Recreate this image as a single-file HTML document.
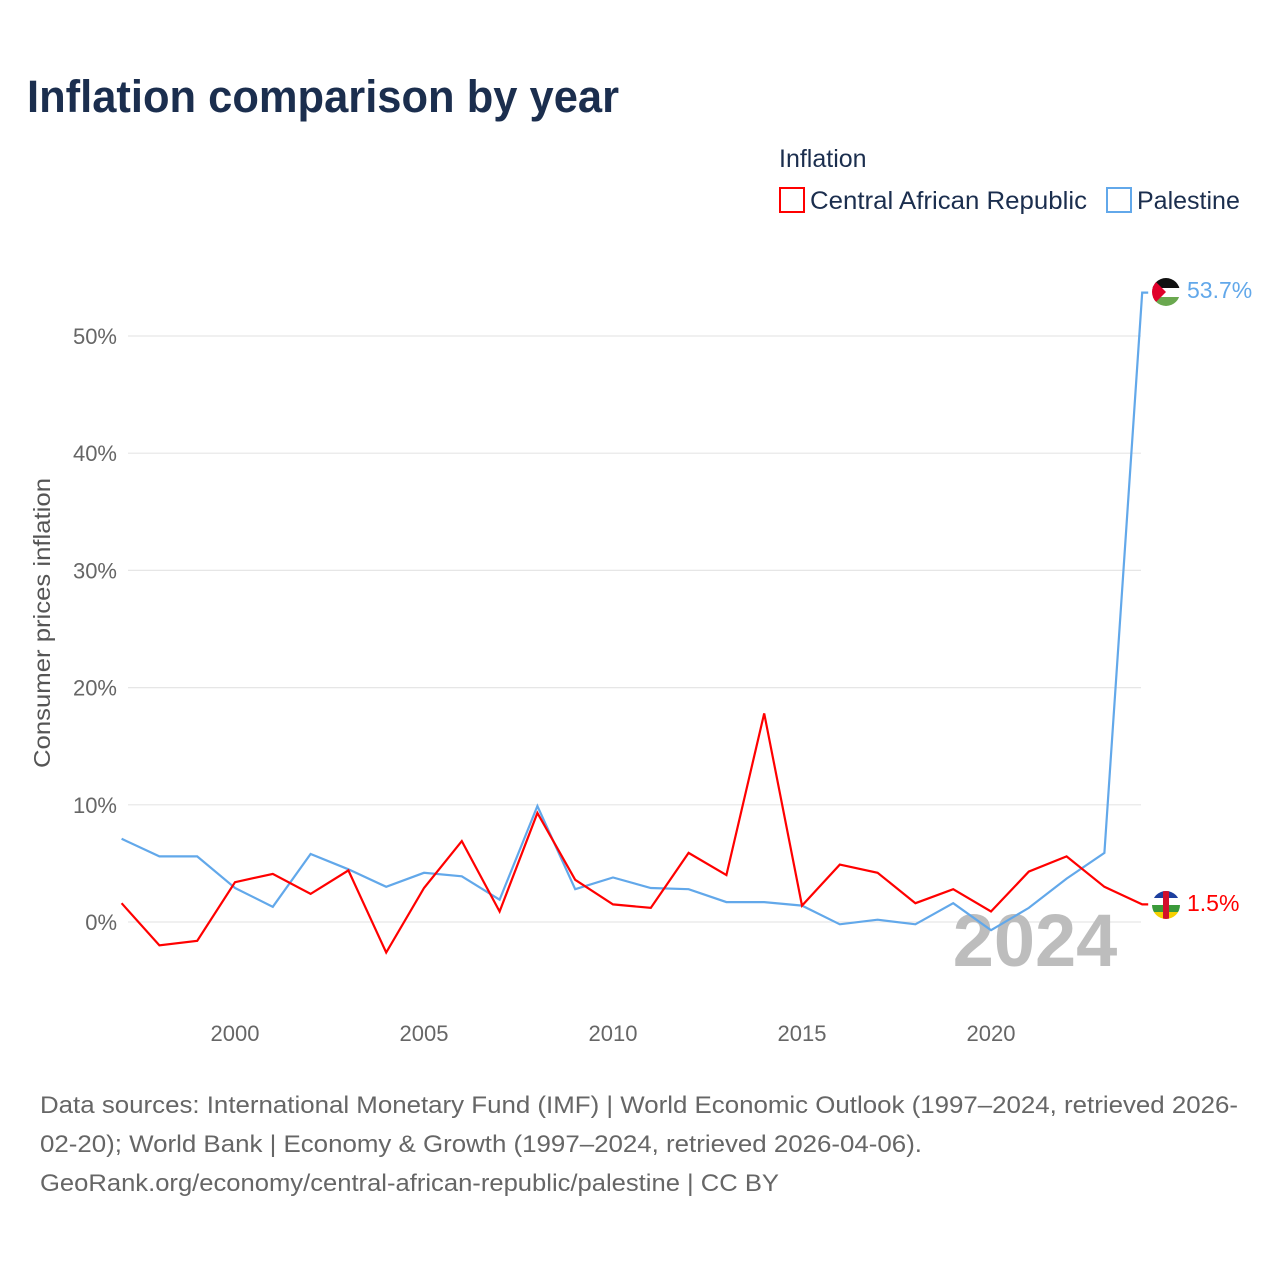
<!DOCTYPE html>
<html><head><meta charset="utf-8"><style>
body{margin:0;background:#fff;font-family:"Liberation Sans",sans-serif;}
#wrap{position:relative;width:1280px;height:1280px;overflow:hidden;}
</style></head><body>
<div id="wrap">
<svg id="chart" width="1280" height="1280" xmlns="http://www.w3.org/2000/svg">
<text x="27" y="112" font-size="45" font-weight="bold" fill="#1b2e4e" textLength="592" lengthAdjust="spacingAndGlyphs">Inflation comparison by year</text>
<text x="779" y="167" font-size="25" fill="#1b2e4e">Inflation</text>
<g><rect x="780" y="188" width="24" height="24" fill="none" stroke="#ff0000" stroke-width="2"/><text x="810" y="209" font-size="25" fill="#1b2e4e" textLength="277" lengthAdjust="spacingAndGlyphs">Central African Republic</text></g>
<g><rect x="1107" y="188" width="24" height="24" fill="none" stroke="#62a8ea" stroke-width="2"/><text x="1137" y="209" font-size="25" fill="#1b2e4e">Palestine</text></g>
<g id="grid"></g><g id="yticks"></g><g id="xticks"></g>
<text x="1035" y="966" font-size="74" font-weight="bold" fill="#bdbdbd" text-anchor="middle">2024</text>
<text transform="translate(50,623) rotate(-90)" font-size="23" fill="#555" text-anchor="middle" textLength="290" lengthAdjust="spacingAndGlyphs">Consumer prices inflation</text>
<g id="series"></g>
<g>
<clipPath id="cp1"><circle cx="1166" cy="292" r="14"/></clipPath>
<g clip-path="url(#cp1)"><rect x="1152" y="278" width="28" height="10" fill="#111"/><rect x="1152" y="288" width="28" height="9" fill="#fff"/><rect x="1152" y="297" width="28" height="10" fill="#6aa84f"/><polygon points="1152,278 1166,292 1152,306" fill="#e0002a"/></g></g>
<g>
<clipPath id="cp2"><circle cx="1166" cy="905" r="14"/></clipPath>
<g clip-path="url(#cp2)"><rect x="1152" y="891" width="28" height="7" fill="#1d3f9e"/><rect x="1152" y="898" width="28" height="7" fill="#fff"/><rect x="1152" y="905" width="28" height="7" fill="#3a9a3a"/><rect x="1152" y="912" width="28" height="7" fill="#f5d000"/><rect x="1163" y="891" width="6" height="28" fill="#d2102a"/></g></g>
<text x="1187" y="298" font-size="23" fill="#62a8ea">53.7%</text>
<text x="1187" y="911" font-size="23" fill="#ff0000">1.5%</text>
<g font-size="24" fill="#666">
<text x="40" y="1113" textLength="1198" lengthAdjust="spacingAndGlyphs">Data sources: International Monetary Fund (IMF) | World Economic Outlook (1997–2024, retrieved 2026-</text>
<text x="40" y="1152" textLength="882" lengthAdjust="spacingAndGlyphs">02-20); World Bank | Economy &amp; Growth (1997–2024, retrieved 2026-04-06).</text>
<text x="40" y="1191" textLength="739" lengthAdjust="spacingAndGlyphs">GeoRank.org/economy/central-african-republic/palestine | CC BY</text>
</g>
</svg>
</div>
<script>
const years=[1997,1998,1999,2000,2001,2002,2003,2004,2005,2006,2007,2008,2009,2010,2011,2012,2013,2014,2015,2016,2017,2018,2019,2020,2021,2022,2023,2024];
const carValues=[1.6,-2.0,-1.6,3.4,4.1,2.4,4.4,-2.6,2.9,6.9,0.9,9.3,3.6,1.5,1.2,5.9,4.0,17.8,1.4,4.9,4.2,1.6,2.8,0.9,4.3,5.6,3.0,1.5];
const palValues=[7.1,5.6,5.6,2.9,1.3,5.8,4.5,3.0,4.2,3.9,1.9,9.9,2.8,3.8,2.9,2.8,1.7,1.7,1.4,-0.2,0.2,-0.2,1.6,-0.7,1.2,3.7,5.9,53.7];
const yTicks=[0,10,20,30,40,50];
const xTicks=[2000,2005,2010,2015,2020];
const NS="http://www.w3.org/2000/svg";
function xs(y){return 121.6+(y-1997)*37.8;}
function ys(v){return 922-v*11.72;}
function mk(t,a,p){const e=document.createElementNS(NS,t);for(const k in a)e.setAttribute(k,a[k]);p.appendChild(e);return e;}
const grid=document.getElementById('grid'),yt=document.getElementById('yticks'),xt=document.getElementById('xticks'),se=document.getElementById('series');
yTicks.forEach(v=>{
 const l=mk('line',{x1:128,x2:1141,y1:ys(v),y2:ys(v),stroke:'#e6e6e6','stroke-width':1.2},grid);
 
 
 const t=mk('text',{x:117,y:ys(v)+8,'font-size':22,fill:'#666','text-anchor':'end'},yt);
 t.textContent=v+'%';
 
 
});
xTicks.forEach(v=>{
 const t=mk('text',{x:xs(v),y:1041,'font-size':22,fill:'#666','text-anchor':'middle'},xt);
 t.textContent=v;
 
 
});
function line(vals,color,name){
 let d=vals.map((v,i)=>(i?'L':'M')+xs(years[i]).toFixed(1)+','+ys(v).toFixed(1)).join(' ');
 const last=vals[vals.length-1];
 d+=' L'+(xs(years[years.length-1])+6).toFixed(1)+','+ys(last).toFixed(1);
 const p=mk('path',{d:d,fill:'none',stroke:color,'stroke-width':2.2,'stroke-linejoin':'miter'},se);
 
 
}
line(palValues,'#62a8ea','palestine-line');
line(carValues,'#ff0000','car-line');
</script>
</body></html>
